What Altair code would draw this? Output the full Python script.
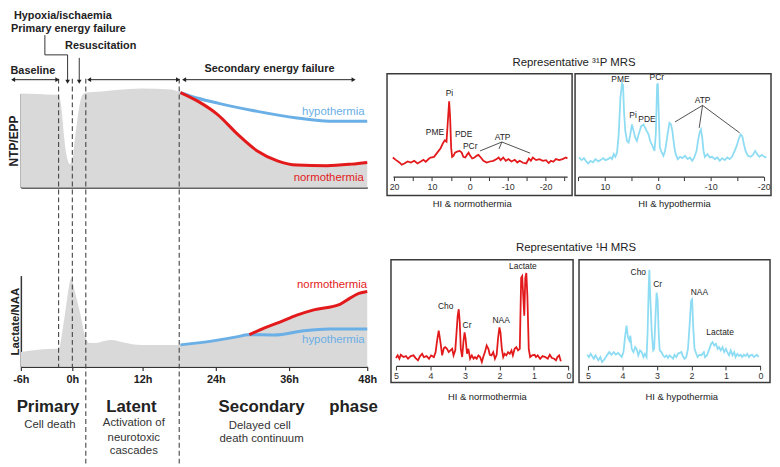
import altair as alt
import pandas as pd

# ---------------- colours ----------------
RED = "#E31A1C"
BLUE = "#6AAFE6"
CYAN = "#8EDCF3"
GREY = "#D9D9D9"
INK = "#222222"
LINE = "#333333"

# ---------------- timeline data (hours, relative level) ----------------
HOUR_TICKS = [-6, 0, 12, 24, 36, 48]
EVENT_HOURS = [-1.6, 0.0, 2.3, 18.0]
EVENT_TOP = [1.158, 1.158, 1.158, 1.158]
EVENT_BOTTOM = [-1.916, -1.916, -2.947, -2.947]

NTP_BASE_T = [-6, -4, -1.96, -1.6, -1.23, -1.06, -0.87, -0.51, -0.33, 0.0, 0.34, 0.68, 1.06, 1.74,
              2.53, 4.6, 7.9, 11.8, 16.7, 18.2]
NTP_BASE_V = [1.0, 0.995, 0.986, 0.984, 0.81, 0.635, 0.463, 0.284, 0.249, 0.284, 0.463, 0.635, 0.81, 0.986,
              1.01, 1.02, 1.04, 1.053, 1.042, 1.01]
NTP_NORM_T = [18.2, 21.1, 24.3, 27.6, 30.8, 34.1, 37.2, 41.8, 45.6, 48]
NTP_NORM_V = [1.01, 0.916, 0.776, 0.565, 0.389, 0.284, 0.239, 0.232, 0.249, 0.267]
NTP_HYPO_T = [18.2, 21.1, 24.3, 30.8, 37.2, 42.2, 48]
NTP_HYPO_V = [1.01, 0.95, 0.898, 0.81, 0.74, 0.705, 0.705]

LAC_BASE_T = [-6, -1.96, -1.6, -0.87, -0.11, 0.34, 1.18, 2.36, 2.87, 4.05, 5.4, 6.76, 8.45, 10.5, 11.8, 18.2]
LAC_BASE_V = [0.147, 0.18, 0.18, 0.52, 0.89, 0.78, 0.58, 0.28, 0.24, 0.24, 0.26, 0.27, 0.25, 0.225, 0.22, 0.22]
LAC_HYPO_T = [18.2, 23.8, 27.6, 29.2, 33.6, 38.3, 42.2, 48]
LAC_HYPO_V = [0.22, 0.263, 0.303, 0.323, 0.32, 0.363, 0.38, 0.38]
LAC_NORM_T = [29.5, 31.9, 34.5, 37.2, 39.8, 43.8, 45.3, 46.7, 48]
LAC_NORM_V = [0.323, 0.39, 0.45, 0.52, 0.573, 0.63, 0.69, 0.74, 0.76]

# header annotations (hours, level on the NTP/EPP scale)
HEAD_TEXT = ["Hypoxia/ischaemia", "Primary energy failure", "Resuscitation", "Baseline",
             "Secondary energy failure"]
HEAD_T = [-1.1, -0.45, 4.85, -4.6, 32.8]
HEAD_V = [1.821, 1.684, 1.505, 1.242, 1.263]

SPAN_START = [-6.9, 2.87, 18.8]
SPAN_END = [-1.75, 17.8, 45.9]
SPAN_LEVEL = 1.147

HYPOXIA_PATH_T = [-3.2, -3.2, -0.55, -0.55]
HYPOXIA_PATH_V = [1.621, 1.411, 1.411, 1.14]
RESUS_T = 1.18
RESUS_V = [1.379, 1.14]
ARROW_TIP_V = 1.126

PHASE_TEXT = ["Primary", "Latent", "Secondary", "phase"]
PHASE_T = [-2.84, 10.1, 31.5, 45.9]
PHASE_V = -2.337
PHASE_SUB = ["Cell death", "Activation of", "neurotoxic", "cascades", "Delayed cell", "death continuum"]
PHASE_SUB_T = [-2.62, 10.5, 10.5, 10.5, 31.2, 31.5]
PHASE_SUB_V = [-2.526, -2.51, -2.663, -2.799, -2.536, -2.673]

# ---------------- spectra (ppm, intensity) ----------------
P31_NORMO = [(20.34, 1.3), (19.47, -1.3), (18.60, -3.7), (17.99, -6.0), (17.30, -4.7), (16.43, -2.7),
             (15.56, -3.7), (14.69, -2.0), (13.82, -4.7), (12.95, -2.7), (12.25, -1.0), (11.64, -3.0),
             (10.77, 0.3), (10.34, 1.3), (9.46, 2.0), (8.60, 6.3), (7.72, 10.7), (7.03, 16.3), (6.59, 18.7),
             (6.16, 17.3), (5.81, 38.0), (5.46, 58.0), (5.20, 41.3), (4.94, 11.3), (4.68, 2.0), (4.33, 3.0),
             (3.90, 6.3), (3.37, 7.3), (2.68, 8.0), (2.15, 6.3), (1.72, 2.0), (1.20, 1.3), (0.76, 4.0),
             (0.33, 6.3), (-0.11, 3.0), (-0.63, 0.3), (-1.24, 1.3), (-1.85, 3.3), (-2.28, 4.0), (-2.89, 1.3),
             (-3.59, -2.0), (-4.46, -3.7), (-5.33, -2.7), (-6.20, -2.0), (-7.07, -0.3), (-7.59, 1.3),
             (-8.12, -1.3), (-8.81, 1.3), (-9.51, -2.0), (-10.2, -0.3), (-10.99, -2.7), (-11.86, -1.0),
             (-12.55, -3.7), (-13.16, -2.0), (-14.03, -4.0), (-14.9, -4.7), (-15.6, 0.3), (-16.12, -2.0),
             (-16.64, 1.3), (-17.51, -1.3), (-18.38, -0.3), (-19.25, -2.0), (-20.12, -1.3), (-20.82, -4.3),
             (-21.43, -2.0), (-22.04, -3.0), (-22.74, -0.3), (-23.61, -1.3), (-24.48, -0.3), (-25.35, 1.3),
             (-25.78, 0.3)]
P31_HYPO = [(14.88, 0.7), (14.38, -2.0), (13.94, 0.0), (13.5, -3.3), (13.13, -5.3), (12.69, -2.7),
            (12.25, -4.3), (11.75, -1.0), (11.25, -3.3), (10.81, -2.0), (10.31, 0.0), (9.88, -2.0),
            (9.38, -1.0), (8.94, 0.7), (8.63, -1.0), (8.31, 4.0), (8.0, 1.3), (7.69, 5.7), (7.38, 24.0),
            (7.06, 60.7), (6.75, 75.7), (6.56, 74.0), (6.38, 47.3), (6.13, 27.3), (5.81, 17.3), (5.5, 15.7),
            (5.19, 24.0), (4.88, 34.0), (4.56, 27.3), (4.25, 20.7), (3.94, 17.3), (3.63, 24.0), (3.13, 32.3),
            (2.69, 34.0), (2.25, 29.0), (1.75, 24.0), (1.44, 17.3), (1.0, 12.3), (0.63, 7.3), (0.38, 24.0),
            (0.13, 74.0), (0.0, 75.7), (-0.13, 54.0), (-0.38, 10.7), (-0.75, 5.7), (-1.06, 2.3), (-1.38, 7.3),
            (-1.75, 20.7), (-2.0, 29.0), (-2.19, 35.7), (-2.5, 34.0), (-2.75, 27.3), (-3.13, 10.7),
            (-3.38, 4.0), (-3.75, -1.0), (-4.19, 1.3), (-4.63, 0.0), (-5.13, 2.3), (-5.63, -1.0), (-6.06, 0.7),
            (-6.5, -2.7), (-6.88, 0.7), (-7.31, 7.3), (-7.63, 19.0), (-7.88, 25.7), (-8.13, 29.0),
            (-8.38, 20.7), (-8.63, 7.3), (-8.88, 1.3), (-9.38, 4.0), (-9.81, 0.7), (-10.25, 1.3),
            (-10.75, -1.0), (-11.25, 0.7), (-11.69, -2.7), (-12.13, 0.0), (-12.63, -2.0), (-13.13, 0.7),
            (-13.56, -1.0), (-14.0, 1.3), (-14.5, 7.3), (-14.88, 12.3), (-15.25, 19.0), (-15.63, 24.0),
            (-15.94, 22.3), (-16.25, 14.0), (-16.56, 7.3), (-17.0, 2.3), (-17.5, 1.3), (-17.94, 3.3),
            (-18.38, 7.3), (-18.75, 4.0), (-19.19, 1.3), (-19.63, 3.3), (-20.13, 1.3), (-20.5, 0.7)]
H1_NORMO = [(5.0, -1.0), (4.95, 1.7), (4.90, -1.7), (4.86, 2.3), (4.78, 0.0), (4.71, 1.0), (4.65, -1.7),
            (4.57, 1.0), (4.49, 1.7), (4.43, -1.0), (4.36, -3.3), (4.30, 1.0), (4.24, 3.3), (4.19, 0.0),
            (4.11, 1.0), (4.04, -1.7), (3.98, 1.7), (3.90, 0.0), (3.85, 5.0), (3.80, 18.3), (3.76, 26.7),
            (3.71, 15.0), (3.66, 1.7), (3.61, 9.0), (3.57, 10.0), (3.52, 8.3), (3.47, 5.0), (3.42, 6.7),
            (3.37, 8.3), (3.33, 1.7), (3.28, 6.7), (3.25, 21.7), (3.21, 41.7), (3.18, 48.3), (3.15, 35.0),
            (3.12, 8.3), (3.08, 0.0), (3.04, 16.7), (3.01, 25.0), (2.98, 18.3), (2.94, 3.3), (2.90, 8.3),
            (2.85, -1.7), (2.80, 1.7), (2.75, -1.7), (2.71, 0.0), (2.66, -1.7), (2.61, 1.7), (2.56, 0.0),
            (2.51, -5.0), (2.47, 0.0), (2.42, 5.0), (2.37, 11.7), (2.32, 8.3), (2.28, 2.3), (2.23, 1.7),
            (2.18, 5.0), (2.13, -1.7), (2.08, 2.3), (2.04, 19.0), (2.00, 30.0), (1.97, 25.0), (1.93, 8.3),
            (1.89, 0.0), (1.85, 3.3), (1.80, 1.7), (1.75, 5.0), (1.70, 3.3), (1.65, 6.7), (1.61, 1.7),
            (1.56, 8.3), (1.51, 10.0), (1.46, 6.7), (1.41, 8.3), (1.37, 80.0), (1.34, 81.7), (1.31, 61.7),
            (1.28, 41.7), (1.25, 80.0), (1.22, 85.0), (1.19, 61.7), (1.15, 8.3), (1.11, 0.0), (1.05, 1.7),
            (0.98, 2.3), (0.94, 0.0), (0.89, 1.7), (0.82, -1.7), (0.75, 1.0), (0.67, 0.0), (0.60, -1.7),
            (0.54, 2.3), (0.48, -1.0), (0.41, -1.7), (0.36, -3.3), (0.32, 0.0), (0.27, 1.7), (0.22, -4.3)]
H1_HYPO = [(5.02, 1.3), (4.97, -1.0), (4.92, 2.3), (4.88, 0.0), (4.83, -2.7), (4.78, 0.7), (4.70, -4.3),
           (4.64, -1.0), (4.59, -6.0), (4.51, -2.7), (4.45, 0.7), (4.38, 4.0), (4.32, 1.3), (4.25, 4.0),
           (4.19, 1.3), (4.13, 3.3), (4.06, 0.7), (4.02, -1.0), (3.97, 4.0), (3.92, 20.7), (3.88, 30.7),
           (3.84, 19.0), (3.80, 15.7), (3.77, 20.7), (3.73, 7.3), (3.68, 4.0), (3.63, 9.0), (3.59, 7.3),
           (3.54, 0.7), (3.49, 5.7), (3.44, 4.0), (3.39, -1.0), (3.35, 2.3), (3.30, -1.0), (3.27, 24.0),
           (3.24, 67.3), (3.22, 87.3), (3.19, 57.3), (3.15, 24.0), (3.11, 5.7), (3.08, 7.3), (3.04, 40.7),
           (3.01, 64.0), (2.98, 57.3), (2.95, 24.0), (2.92, 5.7), (2.87, 4.0), (2.82, 0.7), (2.77, -1.0),
           (2.72, 0.7), (2.68, -2.0), (2.63, 0.7), (2.58, -1.0), (2.53, -2.7), (2.49, 1.3), (2.44, -1.0),
           (2.39, 2.3), (2.29, 4.0), (2.25, 0.0), (2.20, -2.7), (2.15, -1.0), (2.10, 7.3), (2.06, 27.3),
           (2.01, 55.7), (1.98, 57.3), (1.95, 30.7), (1.91, 7.3), (1.86, 2.3), (1.82, -1.0), (1.77, 1.3),
           (1.72, 0.7), (1.64, 4.0), (1.61, -1.0), (1.55, 0.7), (1.48, 7.3), (1.43, 12.3), (1.39, 14.0),
           (1.34, 10.7), (1.29, 12.3), (1.24, 7.3), (1.20, 9.0), (1.15, 5.7), (1.10, 9.0), (1.05, 4.0),
           (1.00, 7.3), (0.96, 4.0), (0.91, 0.7), (0.86, 5.7), (0.81, 0.7), (0.76, 4.0), (0.72, -1.0),
           (0.67, 2.3), (0.62, 0.0), (0.57, 1.3), (0.53, -1.0), (0.48, 1.3), (0.43, 0.0), (0.38, 2.3),
           (0.33, -1.0), (0.29, 0.7), (0.24, 1.3), (0.19, -1.0), (0.10, 1.3), (0.05, -1.0)]

P31_NORMO_LABELS = [("Pi", 5.38, 66.3), ("PME", 9.22, 27.0), ("PDE", 1.64, 24.7), ("PCr", -0.1, 13.3),
                    ("ATP", -8.64, 22.0)]
P31_NORMO_ATP = [(-8.46, 17.0, -2.7, 8.0), (-8.46, 17.0, -7.7, 10.0), (-8.46, 17.0, -15.95, 5.7)]
P31_HYPO_LABELS = [("PME", 7.05, 80.0), ("PCr", 0.18, 81.6), ("Pi", 4.68, 44.0), ("PDE", 2.05, 39.6),
                   ("ATP", -8.45, 58.3)]
P31_HYPO_ATP = [(-8.44, 53.3, -3.25, 36.6), (-8.44, 53.3, -7.81, 30.6), (-8.44, 53.3, -15.44, 25.6)]
H1_NORMO_LABELS = [("Lactate", 1.32, 91.6), ("Cho", 3.56, 51.6), ("Cr", 2.94, 32.6), ("NAA", 1.95, 37.3)]
H1_HYPO_LABELS = [("Cho", 3.54, 85.3), ("Cr", 2.98, 72.3), ("NAA", 1.77, 64.6), ("Lactate", 1.17, 24.0)]

P31_TITLE = ("Representative \u00b3\u00b9P MRS", -27.5, 97.3)
H1_TITLE = ("Representative \u00b9H MRS", -0.22, 110.3)
P31_NORMO_CAPTION = ("HI & normothermia", -0.63, -46.0)
P31_HYPO_CAPTION = ("HI & hypothermia", -3.14, -46.7)
H1_NORMO_CAPTION = ("HI & normothermia", 2.35, -40.7)
H1_HYPO_CAPTION = ("HI & hypothermia", 2.28, -41.7)

# ---------------- layout (pixels inside the view) ----------------
W, H = 772, 459
T_RANGE = [13, 65, 136, 210, 284, 363]
NTP_RANGE = [179, 84]
LAC_RANGE = [360, 268]
LAC_DOMAIN = [0, 0.92]

PANELS = {
    "p31n": dict(xdom=[20.3, -25.7], xrng=[389, 565], ydom=[0, 60], yrng=[150, 90], axis_y=168,
                 ticks=[20, 15, 10, 5, 0, -5, -10, -15, -20, -25], every=10, frame=(383, 64, 570, 187)),
    "p31h": dict(xdom=[15, -20], xrng=[576.3, 763.7], ydom=[0, 80], yrng=[149.3, 69.3], axis_y=168,
                 ticks=[15, 10, 5, 0, -5, -10, -15, -20], every=10, frame=(573, 64, 771, 187)),
    "h1n": dict(xdom=[5, 0], xrng=[392, 566.3], ydom=[0, 100], yrng=[350.3, 250.3], axis_y=359.3,
                ticks=[5, 4, 3, 2, 1, 0], every=1, frame=(387, 252, 571, 376)),
    "h1h": dict(xdom=[5, 0], xrng=[586, 760.3], ydom=[0, 100], yrng=[349.3, 249.3], axis_y=359.3,
                ticks=[5, 4, 3, 2, 1, 0], every=1, frame=(577, 252, 770, 376)),
}


def sc(dom, rng):
    return alt.Scale(domain=dom, range=rng, nice=False, zero=False)


def tx(field="t", axis=None):
    return alt.X(f"{field}:Q", scale=sc(HOUR_TICKS, T_RANGE), axis=axis)


def ny(field="v", axis=None):
    return alt.Y(f"{field}:Q", scale=sc([0, 1], NTP_RANGE), axis=axis)


def ly(field="v", axis=None):
    return alt.Y(f"{field}:Q", scale=sc(LAC_DOMAIN, LAC_RANGE), axis=axis)


layers = []

# ---- grey areas ----
ntp_grey = pd.DataFrame({"t": NTP_BASE_T + NTP_NORM_T[1:], "v": NTP_BASE_V + NTP_NORM_V[1:]})
layers.append(
    alt.Chart(ntp_grey).mark_area(color=GREY, interpolate="monotone").encode(
        x=tx(axis=alt.Axis(orient="bottom", offset=NTP_RANGE[0] - H, labels=False, ticks=False, grid=False,
                           title=None, domainColor=LINE, domainWidth=1.5)),
        y=ny(axis=alt.Axis(orient="left", offset=-T_RANGE[0], labels=False, ticks=False, grid=False,
                           title="NTP/EPP", titleFontSize=12, titleFontWeight="bold", titleColor=INK,
                           titlePadding=0.5, domainColor=LINE, domainWidth=1.5)),
        y2=alt.datum(0),
    )
)

cut = LAC_NORM_T[0]
lac_t = LAC_BASE_T + [t for t in LAC_HYPO_T[1:] if t < cut] + LAC_NORM_T
lac_v = LAC_BASE_V + [v for t, v in zip(LAC_HYPO_T[1:], LAC_HYPO_V[1:]) if t < cut] + LAC_NORM_V
lac_grey = pd.DataFrame({"t": lac_t, "v": lac_v})
layers.append(
    alt.Chart(lac_grey).mark_area(color=GREY, interpolate="monotone").encode(
        x=tx(axis=alt.Axis(orient="bottom", offset=LAC_RANGE[0] - H, values=HOUR_TICKS,
                           labelExpr="datum.value + 'h'", labelFontWeight="bold", labelFontSize=11,
                           labelColor=INK, tickSize=4, tickColor=LINE, tickWidth=1.2, labelPadding=3,
                           grid=False, title=None, domainColor=LINE, domainWidth=1.5, labelFlush=False,
                           labelOverlap=False)),
        y=ly(axis=alt.Axis(orient="left", offset=-T_RANGE[0], labels=False, ticks=False, grid=False,
                           title="Lactate/NAA", titleFontSize=11.5, titleFontWeight="bold", titleColor=INK,
                           titlePadding=0.5, domainColor=LINE, domainWidth=1.5)),
        y2=alt.datum(0),
    )
)

# ---- dashed event lines ----
events = pd.DataFrame({"t": EVENT_HOURS, "top": EVENT_TOP, "bot": EVENT_BOTTOM})
layers.append(
    alt.Chart(events).mark_rule(color="#444444", strokeWidth=1.1, strokeDash=[5, 3]).encode(
        x=tx(), y=ny("top"), y2=alt.Y2("bot:Q")
    )
)


# ---- curves ----
def curve(ts, vs, color, yfun):
    df = pd.DataFrame({"t": ts, "v": vs})
    return alt.Chart(df).mark_line(color=color, strokeWidth=3, interpolate="monotone").encode(x=tx(), y=yfun())


layers.append(curve(NTP_HYPO_T, NTP_HYPO_V, BLUE, ny))
layers.append(curve(NTP_NORM_T, NTP_NORM_V, RED, ny))
layers.append(curve(LAC_HYPO_T, LAC_HYPO_V, BLUE, ly))
layers.append(curve(LAC_NORM_T, LAC_NORM_V, RED, ly))


def tl_text(texts, ts, vs, size, yfun=ny, weight="normal", color=INK):
    if not isinstance(vs, list):
        vs = [vs] * len(texts)
    df = pd.DataFrame({"label": texts, "t": ts, "v": vs})
    return alt.Chart(df).mark_text(fontSize=size, fontWeight=weight, color=color, align="center",
                                   baseline="middle").encode(x=tx(), y=yfun(), text="label:N")


layers.append(tl_text(["hypothermia"], [42.8], [0.8], 11.5, color=BLUE))
layers.append(tl_text(["normothermia"], [42.1], [0.105], 11.5, color=RED))
layers.append(tl_text(["normothermia"], [42.6], [0.82], 11.5, yfun=ly, color=RED))
layers.append(tl_text(["hypothermia"], [42.8], [0.273], 11.5, yfun=ly, color=BLUE))

# ---- header annotations ----
layers.append(tl_text(HEAD_TEXT, HEAD_T, HEAD_V, 11, weight="bold"))

spans = pd.DataFrame({"t": SPAN_START, "t2": SPAN_END, "v": [SPAN_LEVEL] * 3})
layers.append(alt.Chart(spans).mark_rule(color=INK, strokeWidth=1).encode(x=tx(), x2=alt.X2("t2:Q"), y=ny()))
layers.append(alt.Chart(spans).mark_point(shape="triangle-left", filled=True, size=22, color=INK, opacity=1)
              .encode(x=tx(), y=ny()))
layers.append(alt.Chart(spans).mark_point(shape="triangle-right", filled=True, size=22, color=INK, opacity=1)
              .encode(x=tx("t2"), y=ny()))

path = pd.DataFrame({"t": HYPOXIA_PATH_T, "v": HYPOXIA_PATH_V, "o": list(range(len(HYPOXIA_PATH_T)))})
layers.append(alt.Chart(path).mark_line(color=LINE, strokeWidth=1).encode(x=tx(), y=ny(), order="o:Q"))
resus = pd.DataFrame({"t": [RESUS_T], "v": [RESUS_V[0]], "v2": [RESUS_V[1]]})
layers.append(alt.Chart(resus).mark_rule(color=LINE, strokeWidth=1).encode(x=tx(), y=ny(), y2=alt.Y2("v2:Q")))
heads = pd.DataFrame({"t": [HYPOXIA_PATH_T[-1], RESUS_T], "v": [ARROW_TIP_V, ARROW_TIP_V]})
layers.append(alt.Chart(heads).mark_point(shape="triangle-down", filled=True, size=22, color=INK, opacity=1)
              .encode(x=tx(), y=ny()))

# ---- phase labels ----
layers.append(tl_text(PHASE_TEXT, PHASE_T, PHASE_V, 17, weight="bold"))
layers.append(tl_text(PHASE_SUB, PHASE_SUB_T, PHASE_SUB_V, 11.5, color="#333333"))


# ---------------- spectra panels ----------------
def spectrum(key, trace, color, labels, atp, texts):
    p = PANELS[key]

    def ex(field, axis=None):
        return alt.X(f"{field}:Q", scale=sc(p["xdom"], p["xrng"]), axis=axis)

    def ey(field):
        return alt.Y(f"{field}:Q", scale=sc(p["ydom"], p["yrng"]), axis=None)

    out = []
    fx1, fy1, fx2, fy2 = p["frame"]
    out.append(alt.Chart(pd.DataFrame({"k": [0]})).mark_rect(filled=False, color="#3a3a3a", strokeWidth=1.5)
               .encode(x=alt.value(fx1), x2=alt.value(fx2), y=alt.value(fy1), y2=alt.value(fy2)))
    df = pd.DataFrame(trace, columns=["ppm", "i"])
    axis = alt.Axis(orient="bottom", offset=p["axis_y"] - H, values=p["ticks"],
                    labelExpr=f"datum.value % {p['every']} === 0 ? '' + datum.value : ''",
                    labelFontSize=9, labelColor="#333333", tickSize=4, tickColor=LINE, tickWidth=1,
                    domainColor=LINE, domainWidth=1.2, labelPadding=2, grid=False, title=None,
                    labelFlush=False, labelOverlap=False)
    out.append(alt.Chart(df).mark_line(color=color, strokeWidth=1.8).encode(x=ex("ppm", axis), y=ey("i")))
    lab = pd.DataFrame(labels, columns=["label", "x", "y"])
    out.append(alt.Chart(lab).mark_text(fontSize=8.5, color=INK, baseline="middle")
               .encode(x=ex("x"), y=ey("y"), text="label:N"))
    if atp:
        a = pd.DataFrame(atp, columns=["x", "y", "x2", "y2"])
        out.append(alt.Chart(a).mark_rule(color=INK, strokeWidth=0.8)
                   .encode(x=ex("x"), y=ey("y"), x2=alt.X2("x2:Q"), y2=alt.Y2("y2:Q")))
    for (txt, x, y, size) in texts:
        t = pd.DataFrame({"label": [txt], "x": [x], "y": [y]})
        out.append(alt.Chart(t).mark_text(fontSize=size, color=INK, baseline="middle")
                   .encode(x=ex("x"), y=ey("y"), text="label:N"))
    return out


layers += spectrum("p31n", P31_NORMO, RED, P31_NORMO_LABELS, P31_NORMO_ATP,
                   [P31_TITLE + (11.5,), P31_NORMO_CAPTION + (9.5,)])
layers += spectrum("p31h", P31_HYPO, CYAN, P31_HYPO_LABELS, P31_HYPO_ATP, [P31_HYPO_CAPTION + (9.5,)])
layers += spectrum("h1n", H1_NORMO, RED, H1_NORMO_LABELS, None,
                   [H1_TITLE + (11.5,), H1_NORMO_CAPTION + (9.5,)])
layers += spectrum("h1h", H1_HYPO, CYAN, H1_HYPO_LABELS, None, [H1_HYPO_CAPTION + (9.5,)])

chart = (
    alt.layer(*layers)
    .resolve_scale(x="independent", y="independent")
    .properties(width=W, height=H, padding=0, autosize=alt.AutoSizeParams(type="none"))
    .configure(font="Liberation Sans")
    .configure_view(strokeWidth=0)
)

chart.save("out.html", embed_options={"renderer": "svg", "actions": False})
